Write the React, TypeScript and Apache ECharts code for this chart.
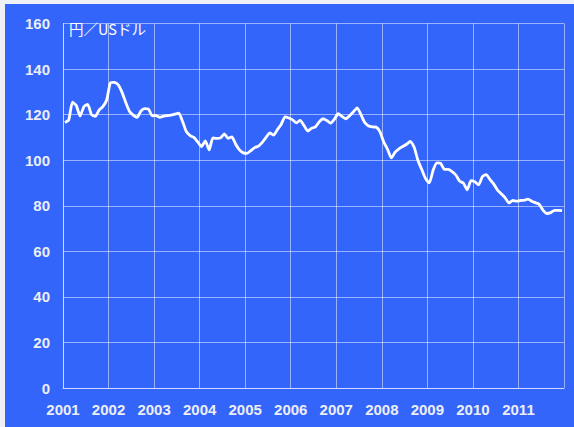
import React, { useEffect, useRef } from "react";
import * as echarts from "echarts";

const years = [2001, 2002, 2003, 2004, 2005, 2006, 2007, 2008, 2009, 2010, 2011];
const yTicks = [0, 20, 40, 60, 80, 100, 120, 140, 160];
const unitLabel = "円／USドル";

const rates2001 = [116.5, 117.6, 125.5, 124, 119.4, 123.5, 124.5, 120, 119.2, 122, 123.5, 126.4];
const rates2002 = [134, 134.2, 133.2, 130, 125.5, 121.5, 119.8, 118.8, 121.5, 122.6, 122.5, 119.5];
const rates2003 = [119.6, 118.8, 119.3, 119.6, 119.8, 120.2, 120.6, 117, 112.5, 110.8, 110, 108];
const rates2004 = [106, 108.5, 104.5, 109.8, 109.6, 109.8, 111.5, 109.6, 110.2, 107, 104.5, 103.2];
const rates2005 = [103, 104.2, 105.5, 106.2, 107.8, 110, 112, 111, 113.5, 115.8, 119, 118.5];
const rates2006 = [117.7, 116.4, 117.5, 115.2, 112.8, 114, 114.6, 116.8, 118.2, 117.4, 116.3, 118];
const rates2007 = [120.4, 119.2, 118.2, 119.5, 121.2, 123, 120, 116.5, 115, 114.6, 114.5, 112.5];
const rates2008 = [108, 104.8, 101, 103.5, 105, 106, 107, 108.2, 105.8, 100, 96, 92];
const rates2009 = [90, 95.5, 98.8, 98.6, 96, 96, 95, 93.5, 90.8, 89.9, 87, 91];
const rates2010 = [90.5, 89.2, 92.8, 93.7, 91.5, 89.5, 86.8, 85.2, 83.5, 81.2, 82.3, 82];
const rates2011 = [82.3, 82.4, 82.9, 82, 81.3, 80.6, 78, 76.6, 77, 78, 78, 77.9];

const ratesByYear = [
  rates2001, rates2002, rates2003, rates2004, rates2005, rates2006,
  rates2007, rates2008, rates2009, rates2010, rates2011,
];

export default function App() {
  const ref = useRef<HTMLDivElement>(null);

  useEffect(() => {
    document.body.style.margin = "0";
    if (!ref.current) return;
    const chart = echarts.init(ref.current, undefined, { renderer: "svg" });

    const data: [number, number][] = [];
    ratesByYear.forEach((arr, yi) => {
      arr.forEach((v, m) => {
        data.push([years[yi] + (m + 0.5) / 12, v]);
      });
    });

    const gridColor = "rgba(255,255,255,0.5)";
    const labelColor = "#eceef6";

    chart.setOption({
      animation: false,
      backgroundColor: "#3465fb",
      grid: { left: 58, top: 19.5, right: 10, bottom: 39, containLabel: false },
      graphic: [
        {
          type: "text",
          left: 64,
          top: 17,
          style: {
            text: unitLabel,
            fill: "#ffffff",
            font: '14.5px "Noto Sans CJK JP", sans-serif',
          },
          z: 10,
        },
      ],
      xAxis: {
        type: "value",
        min: 2001,
        max: 2012,
        interval: 1,
        axisLine: { show: true, lineStyle: { color: gridColor, width: 1 } },
        axisTick: { show: false },
        splitLine: { show: true, lineStyle: { color: gridColor, width: 1 } },
        axisLabel: {
          color: labelColor,
          fontWeight: "bold",
          fontSize: 15,
          fontFamily: "Liberation Sans, Arial, sans-serif",
          margin: 14,
          formatter: (v: number) => (years.indexOf(Math.round(v)) >= 0 ? String(Math.round(v)) : ""),
        },
      },
      yAxis: {
        type: "value",
        min: 0,
        max: 160,
        interval: 20,
        axisLine: { show: true, lineStyle: { color: gridColor, width: 1 } },
        axisTick: { show: false },
        splitLine: { show: true, lineStyle: { color: gridColor, width: 1 } },
        axisLabel: {
          color: labelColor,
          fontWeight: "bold",
          fontSize: 15,
          fontFamily: "Liberation Sans, Arial, sans-serif",
          margin: 13,
          formatter: (v: number) => (yTicks.indexOf(v) >= 0 ? String(v) : ""),
        },
      },
      series: [
        {
          type: "line",
          data,
          showSymbol: false,
          symbol: "none",
          lineStyle: { color: "#ffffff", width: 2.8 },
          smooth: 0.2,
          z: 5,
        },
      ],
    });

    return () => chart.dispose();
  }, []);

  return (
    <div style={{ width: 574, height: 427, position: "relative", background: "#eef1f6" }}>
      <div ref={ref} style={{ position: "absolute", left: 5, top: 4, width: 569, height: 423 }} />
    </div>
  );
}
